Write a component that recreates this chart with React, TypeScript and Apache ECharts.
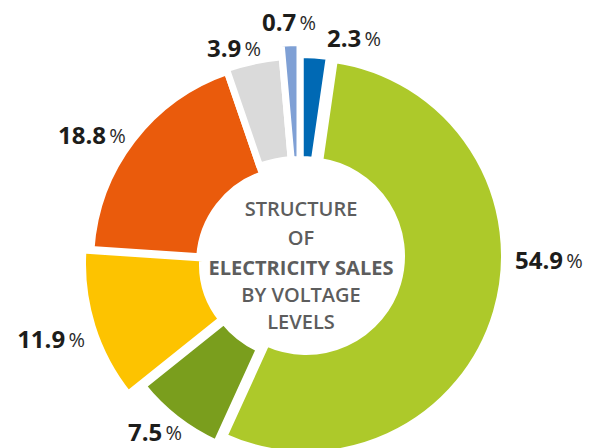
import React, { useEffect, useRef } from "react";
import * as echarts from "echarts";

// ---- data ----
const NAMES = ["Level 1", "Level 2", "Level 3", "Level 4", "Level 5", "Level 6", "Level 7"];
const VALUES = [2.3, 54.9, 7.5, 11.9, 18.8, 3.9, 0.7];
const COLORS = ["#0069b4", "#adc92a", "#7a9e1d", "#fdc300", "#ea5b0c", "#dadada", "#7fa0d5"];
const TITLE_LINES = ["STRUCTURE", "OF", "ELECTRICITY SALES", "BY VOLTAGE", "LEVELS"];
const TITLE_BOLD = [false, false, true, false, false];

// ---- layout (per-slice geometry of the hand-drawn ring) ----
const SLICE_CENTERS = [
  [300, 260],
  [306, 256],
  [300, 260],
  [291, 264],
  [293, 263],
  [302.7, 291.4],
  [300, 260],
];
const SLICE_RADII = [
  [100.5, 205.5],
  [95.5, 198.5],
  [97.5, 201.5],
  [88.5, 208.5],
  [93.5, 202.5],
  [132.5, 235.5],
  [100.5, 217.5],
];
const LABEL_POS = [
  [327, 37],
  [515, 259],
  [128, 431],
  [85, 338],
  [58, 134],
  [207, 47],
  [262, 21],
];
const LABEL_ALIGN = ["left", "left", "left", "right", "left", "left", "left"];
const TITLE_Y = [208, 237.5, 267, 294.5, 321.5];
const GAP = 7;

export default function App() {
  const ref = useRef<HTMLDivElement>(null);
  useEffect(() => {
    if (!ref.current) return;
    const chart = echarts.init(ref.current, null, { renderer: "svg" });
    const series = VALUES.map((_, i) => ({
      type: "pie",
      silent: true,
      center: SLICE_CENTERS[i],
      radius: SLICE_RADII[i],
      startAngle: 90,
      clockwise: true,
      minAngle: 5,
      avoidLabelOverlap: false,
      labelLine: { show: false },
      emphasis: { disabled: true },
      z: 2,
      labelLayout: (p: any) => ({
        x: LABEL_POS[p.dataIndex][0],
        y: LABEL_POS[p.dataIndex][1],
        align: LABEL_ALIGN[p.dataIndex],
        verticalAlign: "middle",
      }),
      data: VALUES.map((v, j) => ({
        name: NAMES[j],
        value: v,
        itemStyle:
          j === i
            ? { color: COLORS[j], borderColor: "#ffffff", borderWidth: GAP }
            : { color: "transparent", borderWidth: 0 },
        label: {
          show: j === i,
          position: "outside",
          formatter: (prm: any) => `{v|${Number(prm.value).toFixed(1)}} {p|%}`,
          rich: {
            v: {
              fontFamily: "Open Sans",
              fontSize: 24,
              fontWeight: "bold",
              color: "#1d1d1b",
              verticalAlign: "bottom",
            },
            p: {
              fontFamily: "Open Sans",
              fontSize: 20,
              fontWeight: "normal",
              color: "#2b2b2b",
              verticalAlign: "bottom",
              padding: [0, 0, 1, 0],
            },
          },
        },
      })),
    }));
    chart.setOption({
      animation: false,
      backgroundColor: "#ffffff",
      series,
      graphic: TITLE_LINES.map((t, k) => ({
        type: "text",
        x: 301,
        y: TITLE_Y[k],
        z: 10,
        style: {
          text: t,
          align: "center",
          verticalAlign: "middle",
          fontFamily: "Open Sans",
          fontSize: 20,
          fontWeight: TITLE_BOLD[k] ? 700 : 600,
          fill: "#5d5d5d",
        },
      })),
    });
    return () => chart.dispose();
  }, []);
  return (
    <div
      ref={ref}
      style={{ position: "fixed", left: 0, top: 0, width: 589, height: 448 }}
    />
  );
}
